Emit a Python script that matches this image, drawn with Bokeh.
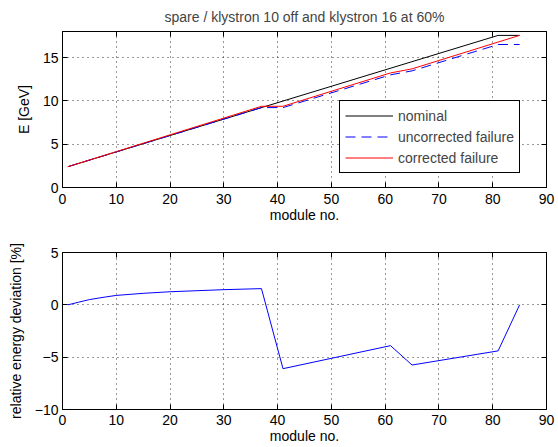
from bokeh.plotting import figure
from bokeh.layouts import column
from bokeh.models import (LinearAxis, Range1d, Legend, LegendItem, FixedTicker,
                          CustomLabelingPolicy)
from bokeh.embed import file_html
from bokeh.resources import INLINE

FONT = "Liberation Sans"

# ---- data ----
module_nominal = [1, 81, 85]
E_nominal = [2.4, 17.55, 17.55]

module_uncorr = [1, 37, 41, 61, 65, 81, 85]
E_uncorr = [2.4, 9.22, 9.22, 13.0, 13.46, 16.5, 16.5]

module_corr = [1, 5, 10, 20, 30, 37, 41, 61, 65, 81, 85]
E_corr = [2.4, 3.17, 4.14, 6.08, 8.01, 9.37, 9.37, 13.22, 13.69, 16.78, 17.55]

module_dev = [1, 3, 5, 8, 10, 15, 20, 25, 30, 37, 41, 61, 65, 81, 85]
dev_pct = [0, 0.25, 0.5, 0.75, 0.9, 1.1, 1.25, 1.35, 1.45, 1.55, -6.1, -3.9, -5.75, -4.4, 0]

x_ticks = [0, 10, 20, 30, 40, 50, 60, 70, 80, 90]
E_ticks = [0, 5, 10, 15]
dev_ticks = [-10, -5, 0, 5]

title_text = "spare / klystron 10 off and klystron 16 at 60%"
legend_labels = ["nominal", "uncorrected failure", "corrected failure"]

NO_LABELS = "const arr = [...indices]; for (const i of arr) indices.unset(i); return indices"


def box_axis(ticks):
    return LinearAxis(ticker=FixedTicker(ticks=ticks), major_label_text_font_size="1px",
                      major_label_policy=CustomLabelingPolicy(code=NO_LABELS),
                      major_tick_in=5, major_tick_out=0, minor_tick_line_color=None,
                      major_label_standoff=0, axis_line_color="black",
                      major_tick_line_color="black")


def style(p, xt, yt, xlabel, ylabel, x_standoff):
    p.xaxis.ticker = FixedTicker(ticks=xt)
    p.yaxis.ticker = FixedTicker(ticks=yt)
    p.xgrid.ticker = FixedTicker(ticks=xt)
    p.ygrid.ticker = FixedTicker(ticks=yt)
    for g in (p.xgrid, p.ygrid):
        g.grid_line_color = "black"
        g.grid_line_alpha = 0.8
        g.grid_line_dash = "1 4"
        g.grid_line_width = 1
    p.xaxis.axis_label = xlabel
    p.yaxis.axis_label = ylabel
    for ax in (p.xaxis, p.yaxis):
        ax.major_tick_in = 5
        ax.major_tick_out = 0
        ax.minor_tick_line_color = None
        ax.axis_line_color = "black"
        ax.major_tick_line_color = "black"
        ax.major_label_text_font = FONT
        ax.major_label_text_font_size = "14px"
        ax.major_label_text_color = "black"
        ax.major_label_text_line_height = 1.0
        ax.axis_label_text_font = FONT
        ax.axis_label_text_font_size = "14px"
        ax.axis_label_text_font_style = "normal"
        ax.axis_label_text_color = "black"
        ax.axis_label_text_line_height = 1.0
    p.xaxis.major_label_standoff = x_standoff
    p.xaxis.axis_label_standoff = 0
    p.yaxis.major_label_standoff = 4
    p.yaxis.axis_label_standoff = 8
    p.outline_line_color = "black"
    p.outline_line_alpha = 1
    p.outline_line_width = 1
    p.add_layout(box_axis(xt), "above")
    p.add_layout(box_axis(yt), "right")


p1 = figure(width=558, height=233, x_range=Range1d(0, 90), y_range=Range1d(0, 18),
            output_backend="svg", toolbar_location=None,
            min_border_left=62, min_border_right=12, min_border_top=31, min_border_bottom=46)
p1.title.text = title_text
p1.title.align = "center"
p1.title.text_font = FONT
p1.title.text_font_size = "14px"
p1.title.text_font_style = "normal"
p1.title.standoff = 6
style(p1, x_ticks, E_ticks, "module no.", "E [GeV]", 6)

r_nom = p1.line(module_nominal, E_nominal, line_color="black", line_width=1)
r_unc = p1.line(module_uncorr, E_uncorr, line_color="#0000ff", line_width=1, line_dash="10 6")
r_cor = p1.line(module_corr, E_corr, line_color="#ff0000", line_width=1)

legend = Legend(items=[LegendItem(label=legend_labels[0], renderers=[r_nom]),
                       LegendItem(label=legend_labels[1], renderers=[r_unc]),
                       LegendItem(label=legend_labels[2], renderers=[r_cor])],
                location=(277, 14))
legend.border_line_color = "black"
legend.border_line_width = 1
legend.border_line_alpha = 1
legend.background_fill_color = "white"
legend.background_fill_alpha = 1
legend.label_text_font = FONT
legend.label_text_font_size = "14px"
legend.glyph_width = 48
legend.glyph_height = 19
legend.label_height = 19
legend.spacing = 2
legend.padding = 5
legend.label_standoff = 5
legend.margin = 0
p1.add_layout(legend, "center")

p2 = figure(width=558, height=214, x_range=Range1d(0, 90), y_range=Range1d(-10, 5),
            output_backend="svg", toolbar_location=None,
            min_border_left=62, min_border_right=12, min_border_top=19, min_border_bottom=38)
style(p2, x_ticks, dev_ticks, "module no.", "relative energy deviation [%]", 5)
p2.line(module_dev, dev_pct, line_color="#0000ff", line_width=1)

layout = column(p1, p2, spacing=0)

open("out.html", "w").write(file_html(layout, INLINE))
